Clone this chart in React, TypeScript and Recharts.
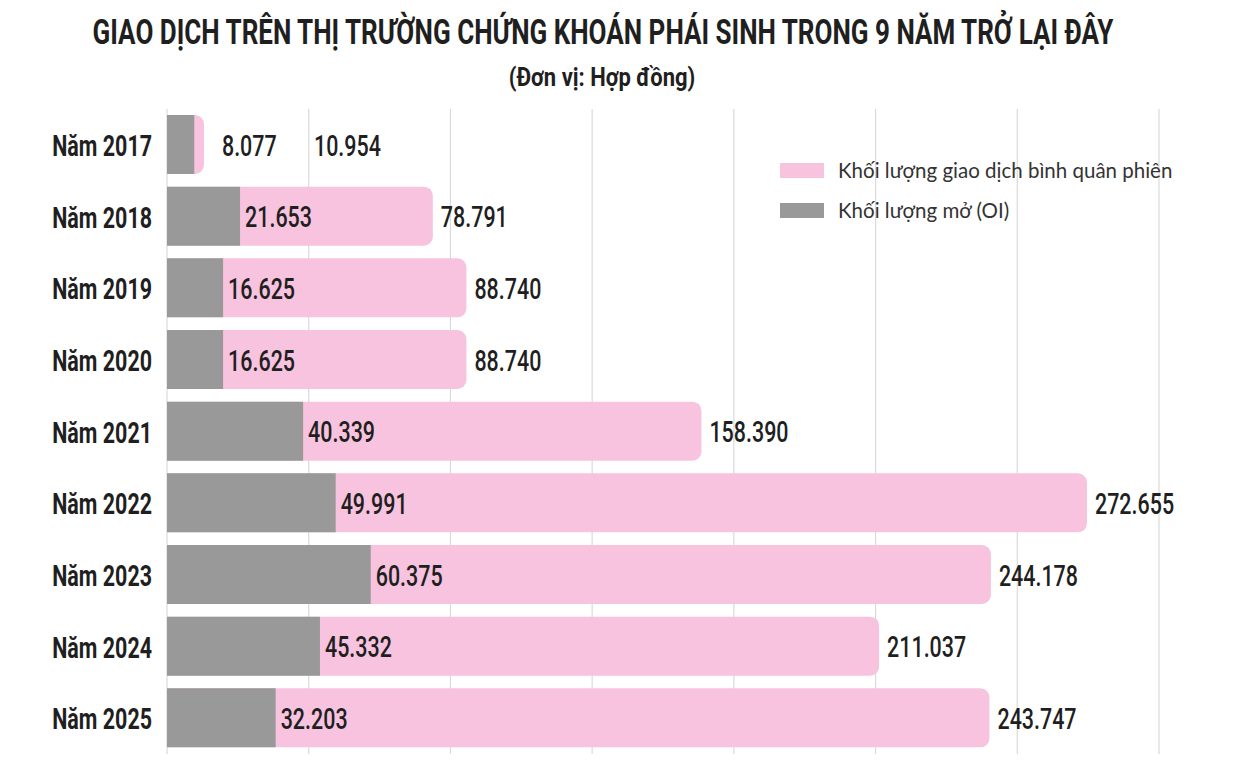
import { BarChart, Bar, XAxis, YAxis, CartesianGrid, LabelList } from "recharts";

const years = ["Năm 2017", "Năm 2018", "Năm 2019", "Năm 2020", "Năm 2021", "Năm 2022", "Năm 2023", "Năm 2024", "Năm 2025"];
const avgVolume = [10954, 78791, 88740, 88740, 158390, 272655, 244178, 211037, 243747];
const openInterest = [8077, 21653, 16625, 16625, 40339, 49991, 60375, 45332, 32203];
const gridTicks = [0, 42000, 84000, 126000, 168000, 210000, 252000, 294000];

const PINK = "#f7c3de";
const GRAY = "#999999";
const FONT = "Roboto, 'Liberation Sans', sans-serif";
const SQUEEZE = 0.74; // fake condensed face

const data = years.map((year, i) => ({ year, avg: avgVolume[i], oi: openInterest[i] }));

const fmt = (v: number) => String(v).replace(/\B(?=(\d{3})+(?!\d))/g, ".");

const NarrowText = ({ x, y, children, weight = 500, size = 29, anchor = "start", squeeze = SQUEEZE, baseline = "central" }: any) => (
  <text
    transform={`translate(${x},${y}) scale(${squeeze},1)`}
    x={0}
    y={0}
    dominantBaseline={baseline}
    textAnchor={anchor}
    fontFamily={FONT}
    fontWeight={weight}
    fontSize={size}
    fill="#1f1f1f"
  >
    {children}
  </text>
);

// when the pink part is too short, both numbers go after the bar
const crowded = (i: number, barW: number) => barW * (1 - openInterest[i] / avgVolume[i]) < 75;

const GrayLabel = (props: any) => {
  const x = Number(props.x), y = Number(props.y), w = Number(props.width), h = Number(props.height);
  const i = props.index;
  const pinkW = (w * avgVolume[i]) / openInterest[i];
  const lx = crowded(i, pinkW) ? x + pinkW + 18 : x + w + 5;
  return <NarrowText x={lx} y={y + h / 2 + 1}>{fmt(openInterest[i])}</NarrowText>;
};

const PinkLabel = (props: any) => {
  const x = Number(props.x), y = Number(props.y), w = Number(props.width), h = Number(props.height);
  const i = props.index;
  const lx = crowded(i, w) ? x + w + 110 : x + w + 8;
  return <NarrowText x={lx} y={y + h / 2 + 1}>{fmt(avgVolume[i])}</NarrowText>;
};

const YearTick = (props: any) => (
  <NarrowText x={props.x} y={props.y + 1} weight={700} size={29} anchor="end">
    {props.payload.value}
  </NarrowText>
);

export default function App() {
  return (
    <div style={{ position: "relative", width: 1251, height: 782, background: "#fff" }}>
      <style>{`body{margin:0}`}</style>
      <svg width={1251} height={105} style={{ position: "absolute", top: 0, left: 0 }}>
        <NarrowText x={603} y={44} weight={700} size={35} anchor="middle" squeeze={0.744} baseline="alphabetic">
          GIAO DỊCH TRÊN THỊ TRƯỜNG CHỨNG KHOÁN PHÁI SINH TRONG 9 NĂM TRỞ LẠI ĐÂY
        </NarrowText>
        <NarrowText x={602} y={86} weight={700} size={25} anchor="middle" squeeze={0.88} baseline="alphabetic">
          (Đơn vị: Hợp đồng)
        </NarrowText>
      </svg>
      <BarChart
        width={1251}
        height={782}
        data={data}
        layout="vertical"
        margin={{ top: 109, right: 92, bottom: 28, left: 0 }}
        barGap={-59}
        style={{ position: "absolute", top: 0, left: 0 }}
      >
        <CartesianGrid horizontal={false} stroke="#dadada" strokeWidth={1.2} />
        <XAxis type="number" domain={[0, 294000]} ticks={gridTicks} hide />
        <YAxis
          type="category"
          dataKey="year"
          width={167}
          tickSize={0}
          tickMargin={15}
          axisLine={false}
          tickLine={false}
          tick={YearTick}
        />
        <Bar dataKey="avg" fill={PINK} barSize={59} radius={[0, 9, 9, 0]} isAnimationActive={false}>
          <LabelList dataKey="avg" content={PinkLabel} />
        </Bar>
        <Bar dataKey="oi" fill={GRAY} barSize={59} isAnimationActive={false}>
          <LabelList dataKey="oi" content={GrayLabel} />
        </Bar>
      </BarChart>
      <div
        style={{
          position: "absolute",
          top: 158,
          left: 780,
          fontFamily: "Lato, 'Noto Sans', sans-serif",
          fontSize: 20.5,
          color: "#333",
        }}
      >
        {[
          { name: "Khối lượng giao dịch bình quân phiên", color: PINK },
          { name: "Khối lượng mở (OI)", color: GRAY },
        ].map((item) => (
          <div key={item.name} style={{ display: "flex", alignItems: "center", height: 24, marginBottom: 16 }}>
            <span style={{ display: "inline-block", width: 44, height: 15, background: item.color, marginRight: 14 }} />
            <span>{item.name}</span>
          </div>
        ))}
      </div>
    </div>
  );
}
